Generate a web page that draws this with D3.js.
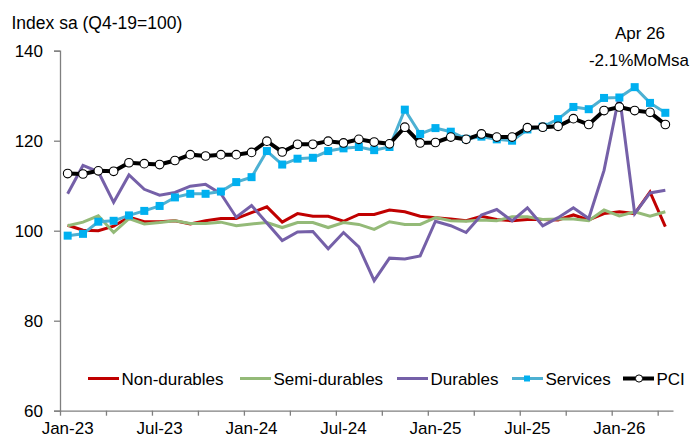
<!DOCTYPE html>
<html><head><meta charset="utf-8">
<script src="https://cdn.jsdelivr.net/npm/d3@7/dist/d3.min.js"></script>
<style>
html,body{margin:0;padding:0;background:#fff;}
svg{display:block;font-family:"Liberation Sans",Arial,sans-serif;}
</style></head>
<body><svg id="c" width="694" height="437"></svg>
<script>
const months = ["Jan-23","Feb-23","Mar-23","Apr-23","May-23","Jun-23","Jul-23","Aug-23","Sep-23","Oct-23","Nov-23","Dec-23",
"Jan-24","Feb-24","Mar-24","Apr-24","May-24","Jun-24","Jul-24","Aug-24","Sep-24","Oct-24","Nov-24","Dec-24",
"Jan-25","Feb-25","Mar-25","Apr-25","May-25","Jun-25","Jul-25","Aug-25","Sep-25","Oct-25","Nov-25","Dec-25",
"Jan-26","Feb-26","Mar-26","Apr-26"];
const xTickLabels = ["Jan-23","Jul-23","Jan-24","Jul-24","Jan-25","Jul-25","Jan-26"];
const yTicks = [60,80,100,120,140];

const nonDurables = [101.2,100.1,100.0,101.0,103.0,102.0,102.0,102.2,101.5,102.2,102.7,102.7,
104.0,105.3,101.9,103.8,103.2,103.2,102.1,103.6,103.6,104.6,104.2,103.2,
102.9,102.6,102.2,103.2,102.5,102.2,102.5,102.5,102.4,103.5,102.4,103.8,
104.2,103.8,108.6,100.9];
const semiDurables = [101.1,101.9,103.3,99.6,102.7,101.5,101.8,102.2,101.6,101.6,101.9,101.1,
101.5,101.8,100.7,101.8,101.8,100.7,101.8,101.4,100.3,102.0,101.4,101.4,
102.9,102.2,102.1,102.4,102.2,103.1,103.1,102.5,102.6,102.6,102.2,104.6,
103.3,104.2,103.2,104.2];
const durables = [108.2,114.5,113.1,106.3,112.4,109.2,107.9,108.5,109.9,110.3,108.2,103.0,
105.6,101.7,97.8,99.7,99.8,96.0,99.6,96.4,88.9,93.9,93.7,94.4,
102.1,101.1,99.6,103.5,104.7,102.2,105.1,101.1,102.9,105.1,102.7,113.4,
130.2,103.8,108.4,109.0];
const services = [98.9,99.3,102.0,102.2,103.4,104.4,105.5,107.4,108.2,108.2,108.7,110.8,
111.9,117.7,114.7,116.0,116.2,117.7,118.3,118.6,117.9,118.6,126.9,121.5,
122.8,122.0,120.4,120.9,120.3,120.0,122.5,123.1,124.8,127.5,127.0,129.5,
129.6,131.9,128.4,126.2];
const pci = [112.7,112.6,113.3,113.2,115.1,114.9,114.7,115.6,116.9,116.6,116.9,116.9,
117.4,119.9,117.5,119.2,119.2,119.9,119.5,120.3,119.7,119.3,123.0,119.5,
119.6,120.8,120.3,121.5,120.8,120.8,122.9,123.0,123.2,124.9,123.6,126.7,
127.5,126.7,126.3,123.6];

const seriesNames = ["Non-durables","Semi-durables","Durables","Services","PCI"];

const svg = d3.select("#c");
const pLeft = 60, pRight = 673, pTop = 50.7, pBottom = 410.7;
const x = d3.scaleLinear().domain([0, months.length]).range([pLeft, pRight]);
const y = d3.scaleLinear().domain([60, 140]).range([pBottom, pTop]);
const FS = "17px";
const axisColor = "#7f7f7f";

// y axis
const yAxis = svg.append("g").attr("transform", `translate(${pLeft},0)`)
  .call(d3.axisLeft(y).tickValues(yTicks).tickSize(6).tickPadding(11).tickFormat(d3.format("d")));
yAxis.selectAll("path,line").attr("stroke", axisColor).attr("stroke-width", 1.3);
yAxis.selectAll("text").attr("font-size", FS).attr("fill", "#000")
  .attr("font-family", "Liberation Sans, Arial, sans-serif");

// x axis (ticks at quarter boundaries)
const qTicks = d3.range(0, months.length, 3);
const xAxis = svg.append("g").attr("transform", `translate(0,${pBottom})`)
  .call(d3.axisBottom(x).tickValues(qTicks).tickSize(5).tickSizeOuter(0).tickFormat(""));
xAxis.selectAll("path,line").attr("stroke", axisColor).attr("stroke-width", 1.3);
svg.append("g").selectAll("text").data(xTickLabels).join("text")
  .attr("x", d => x(months.indexOf(d) + 0.5))
  .attr("y", 433.5)
  .attr("text-anchor", "middle").attr("font-size", FS).attr("fill", "#000")
  .text(d => d);

// title
svg.append("text").attr("x", 11.5).attr("y", 28.5).attr("font-size", "17.5px").attr("fill", "#000")
  .text("Index sa (Q4-19=100)");
// annotation
svg.append("text").attr("x", 640).attr("y", 39).attr("text-anchor", "middle").attr("font-size", FS).text("Apr 26");
svg.append("text").attr("x", 639).attr("y", 65.5).attr("text-anchor", "middle").attr("font-size", FS).text("-2.1%MoMsa");

const line = d3.line().x((d, i) => x(i + 0.5)).y(d => y(d));
const styles = [
  {data: nonDurables, color: "#C00000", w: 3},
  {data: semiDurables, color: "#94BA78", w: 3},
  {data: durables, color: "#7560A8", w: 3},
  {data: services, color: "#4DB0D2", w: 3},
  {data: pci, color: "#000000", w: 4}
];
styles.forEach(s => {
  svg.append("path").datum(s.data).attr("d", line).attr("fill", "none")
    .attr("stroke", s.color).attr("stroke-width", s.w).attr("stroke-linejoin", "miter");
});
// services markers
svg.append("g").selectAll("rect").data(services).join("rect")
  .attr("x", (d, i) => x(i + 0.5) - 4).attr("y", d => y(d) - 4)
  .attr("width", 8).attr("height", 8).attr("fill", "#00B0F0");
// pci markers
svg.append("g").selectAll("circle").data(pci).join("circle")
  .attr("cx", (d, i) => x(i + 0.5)).attr("cy", d => y(d)).attr("r", 4.3)
  .attr("fill", "#fff").attr("stroke", "#000").attr("stroke-width", 1.1);

// legend
const legX = [88, 240, 397, 512, 623];
const legY = 378.5;
const leg = svg.append("g");
seriesNames.forEach((name, k) => {
  const s = styles[k];
  const g = leg.append("g").attr("transform", `translate(${legX[k]},${legY})`);
  g.append("line").attr("x1", 0).attr("x2", 31).attr("y1", 0).attr("y2", 0)
    .attr("stroke", s.color).attr("stroke-width", s.w);
  if (k === 3) g.append("rect").attr("x", 12).attr("y", -3).attr("width", 6).attr("height", 6).attr("fill", "#00B0F0");
  if (k === 4) g.append("circle").attr("cx", 16).attr("cy", 0).attr("r", 3.6).attr("fill", "#fff").attr("stroke", "#000").attr("stroke-width", 1);
  g.append("text").attr("x", 33.5).attr("y", 6).attr("font-size", FS).attr("fill", "#000").text(name);
});
</script></body></html>
